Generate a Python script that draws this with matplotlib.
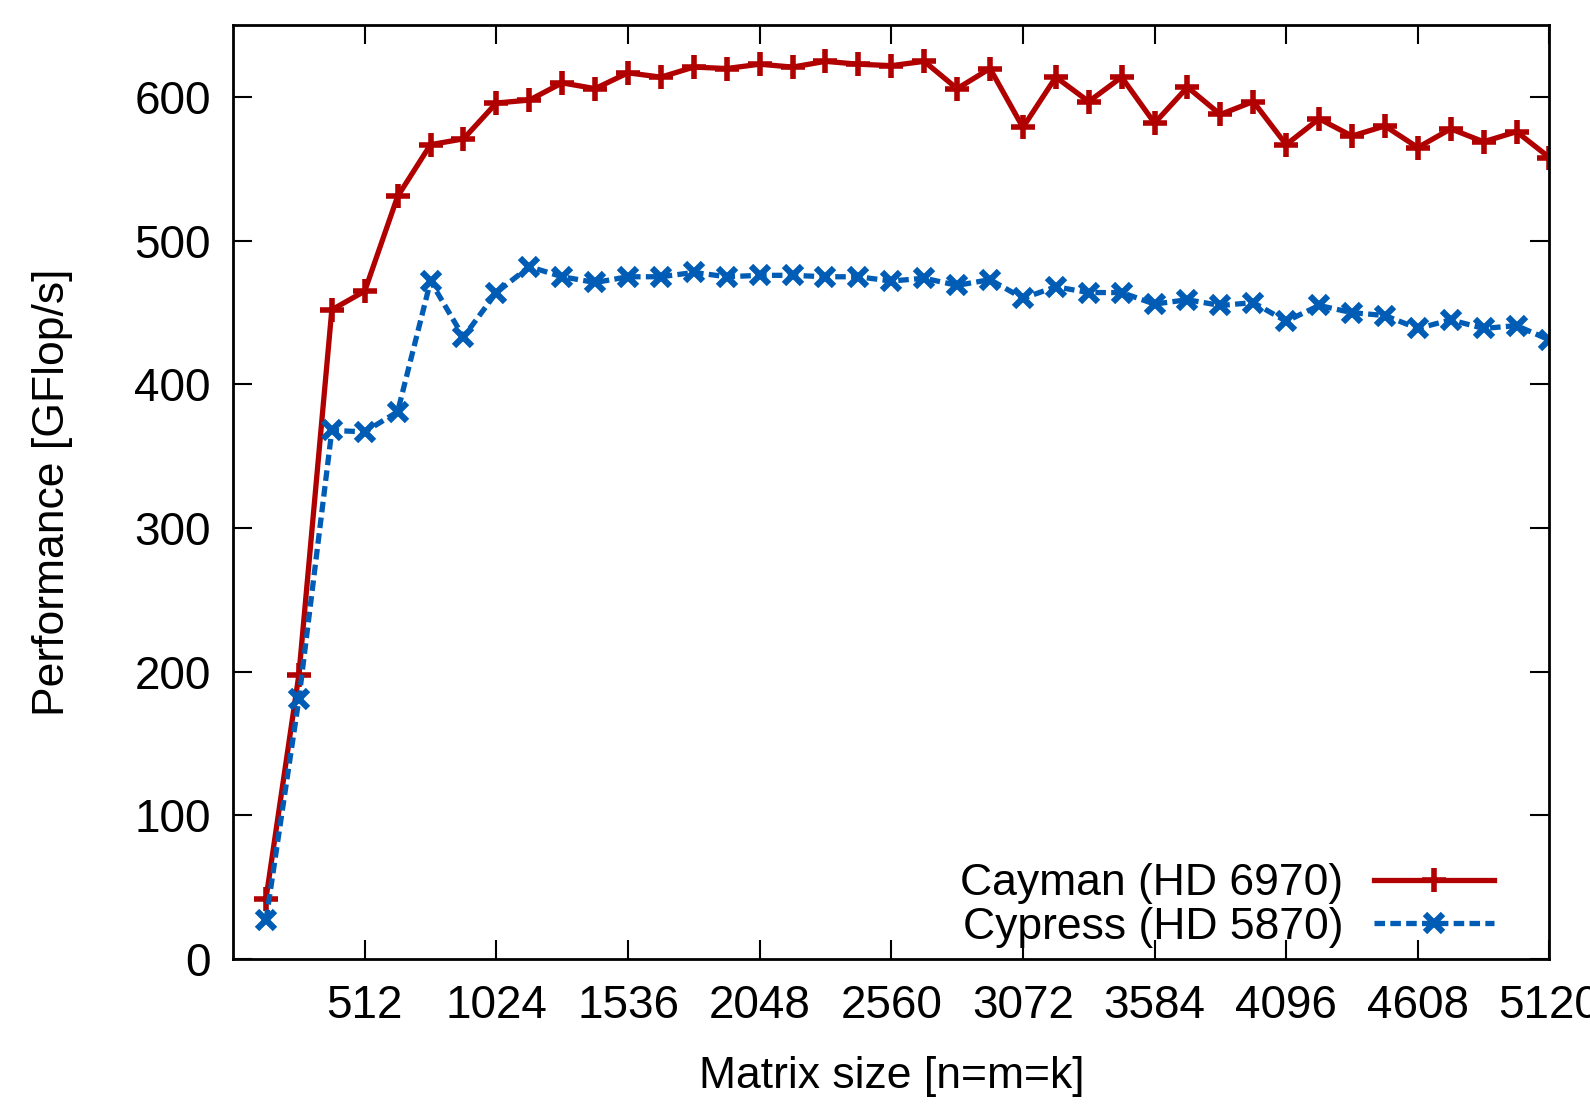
import matplotlib
matplotlib.use("Agg")
import matplotlib.pyplot as plt

plt.rcParams['font.family'] = ['Liberation Sans', 'DejaVu Sans']

# matrix sizes n=m=k
sizes = list(range(128, 5121, 128))

cayman = [42, 198, 452, 465, 531, 567, 571, 596, 598, 610,
          606, 617, 614, 621, 620, 623, 621, 625, 623, 622,
          625, 606, 620, 579, 614, 597, 614, 582, 607, 588,
          597, 567, 585, 573, 580, 565, 578, 569, 576, 558]

cypress = [27, 181, 368, 367, 381, 472, 433, 464, 482, 475,
           471, 475, 475, 478, 475, 476, 476, 475, 475, 472,
           474, 469, 473, 460, 468, 464, 464, 456, 459, 455,
           457, 444, 455, 450, 448, 439, 445, 439, 441, 431]

xticks = [512, 1024, 1536, 2048, 2560, 3072, 3584, 4096, 4608, 5120]
yticks = [0, 100, 200, 300, 400, 500, 600]

fig = plt.figure(figsize=(15.9, 11.06), dpi=100)
ax = fig.add_axes([0.1466, 0.133, 0.8279, 0.844])

ax.plot(sizes, cayman, color='#b00000', lw=3.8, marker='+', ms=17, mew=4,
        label='Cayman (HD 6970)')
ax.plot(sizes, cypress, color='#005cb4', lw=3.8, marker='x', ms=13, mew=4.5,
        dashes=(2.0, 1.0), label='Cypress (HD 5870)')

ax.set_xlim(0, 5120)
ax.set_ylim(0, 650)
ax.set_xticks(xticks)
ax.set_yticks(yticks)
ax.tick_params(direction='in', length=14, width=1.5, labelsize=33,
               top=True, right=True)
ax.tick_params(axis='x', pad=18)
ax.tick_params(axis='y', pad=16)
for s in ax.spines.values():
    s.set_linewidth(2)

ax.set_xlabel('Matrix size [n=m=k]', fontsize=32, labelpad=20)
ax.set_ylabel('Performance [GFlop/s]', fontsize=32, labelpad=44)

ax.legend(loc='lower right', bbox_to_anchor=(0.958, 0.012), frameon=False,
          markerfirst=False, fontsize=32, handlelength=2.7, handletextpad=0.7,
          labelspacing=0.05, borderpad=0, borderaxespad=0)

fig.savefig('out.png', dpi=100)
